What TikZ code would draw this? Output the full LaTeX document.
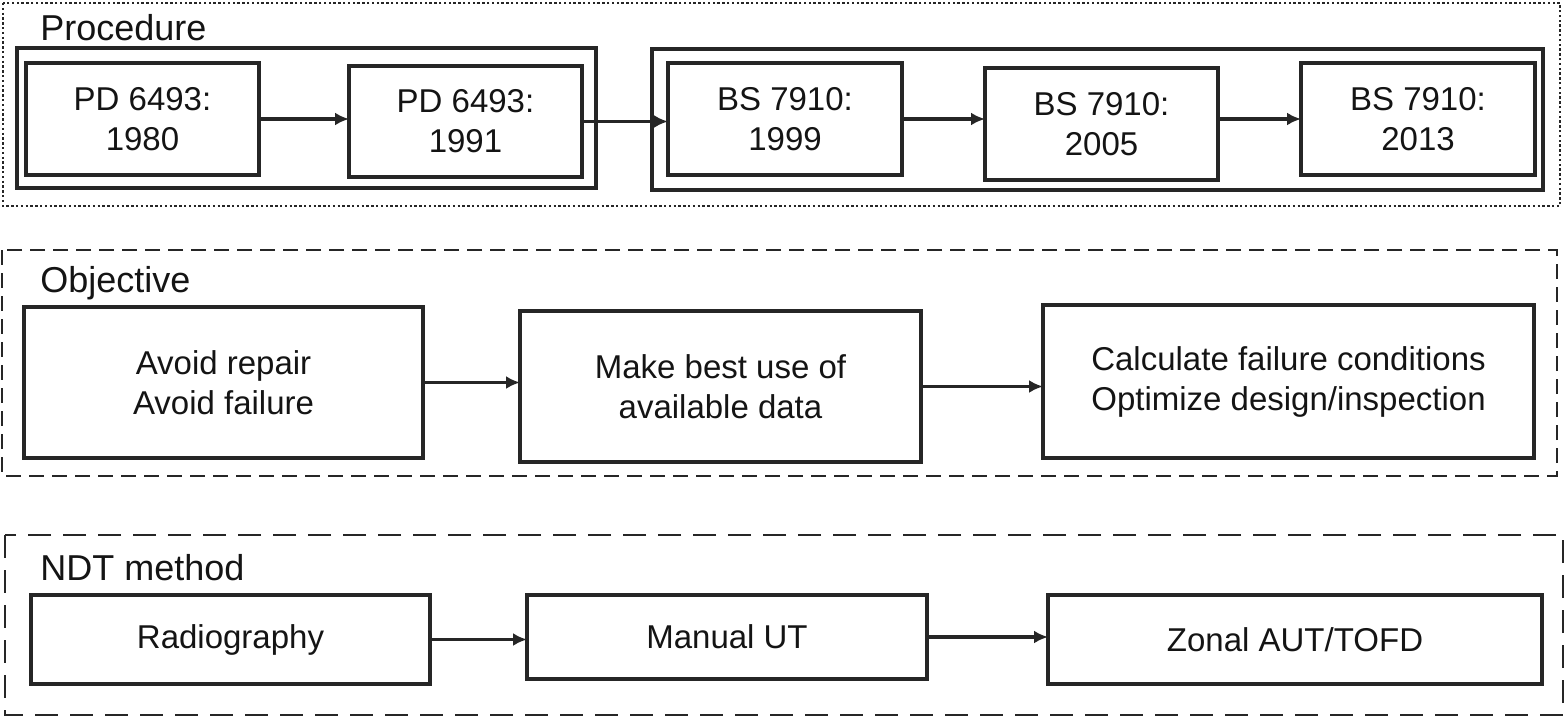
\documentclass[tikz,border=0pt]{standalone}
\usepackage{fontspec}
\setmainfont{Liberation Sans}
\usetikzlibrary{arrows.meta}
\definecolor{linec}{HTML}{262626}
\definecolor{textc}{HTML}{141414}
\begin{document}
\begin{tikzpicture}[x=0.5pt,y=-0.5pt,
  box/.style={draw=linec, line width=1.6pt, inner sep=0pt, outer sep=0pt, align=center,
    font=\fontsize{16.5}{20}\selectfont, text=textc},
  grp/.style={draw=linec, line width=1.7pt},
  head/.style={anchor=base west, inner sep=0pt, font=\fontsize{18}{22}\selectfont, text=textc},
  arr/.style={draw=linec, line width=1.6pt, -{Latex[length=7pt,width=6.5pt]}},
  dotframe/.style={draw=linec, line width=1.4pt, dash pattern=on 1.2pt off 1.2pt},
  dashA/.style={draw=linec, line width=1.4pt, dash pattern=on 7.5pt off 4pt},
  dashB/.style={draw=linec, line width=1.3pt, dash pattern=on 11.5pt off 6pt}]
\useasboundingbox (0,0) rectangle (1567,717);

% ---------- Procedure ----------
\draw[dotframe] (3,3) rectangle (1560,206);
\node[head] (hproc) at (40,41) {Procedure};
\draw[grp] (17,48) rectangle (596,188);
\draw[grp] (652,49) rectangle (1543,190);

\node[box, minimum width={(259-26)*0.5pt}, minimum height={(175-63)*0.5pt}] (p1) at ({(26+259)/2},{(63+175)/2}) {PD 6493:\\1980};
\node[box, minimum width={(582-349)*0.5pt}, minimum height={(177-66)*0.5pt}] (p2) at ({(349+582)/2},{(66+177)/2}) {PD 6493:\\1991};
\node[box, minimum width={(902-668)*0.5pt}, minimum height={(175-63)*0.5pt}] (b1) at ({(668+902)/2},{(63+175)/2}) {BS 7910:\\1999};
\node[box, minimum width={(1218-985)*0.5pt}, minimum height={(180-68)*0.5pt}] (b2) at ({(985+1218)/2},{(68+180)/2}) {BS 7910:\\2005};
\node[box, minimum width={(1535-1301)*0.5pt}, minimum height={(175-63)*0.5pt}] (b3) at ({(1301+1535)/2},{(63+175)/2}) {BS 7910:\\2013};

\draw[arr] (p1.east) -- (p1.east -| p2.west);
\draw[arr] (p2.east) -- (p2.east -| b1.west);
\draw[arr] (b1.east) -- (b1.east -| b2.west);
\draw[arr] (b3.west -| b2.east) -- (b3.west);

% ---------- Objective ----------
\draw[dashA] (2,250) rectangle (1557,476);
\node[head] (hobj) at (40,292) {Objective};
\node[box, minimum width={(423-24)*0.5pt}, minimum height={(458-307)*0.5pt}] (o1) at ({(24+423)/2},{(307+458)/2}) {Avoid repair\\Avoid failure};
\node[box, minimum width={(921-520)*0.5pt}, minimum height={(462-311)*0.5pt}] (o2) at ({(520+921)/2},{(311+462)/2}) {Make best use of\\available data};
\node[box, minimum width={(1534-1043)*0.5pt}, minimum height={(458-305)*0.5pt}] (o3) at ({(1043+1534)/2},{(305+458)/2}) {Calculate failure conditions\\Optimize design/inspection};
\draw[arr] (o1.east) -- (o1.east -| o2.west);
\draw[arr] (o2.east) -- (o2.east -| o3.west);

% ---------- NDT method ----------
\draw[dashB] (5,535) rectangle (1563,715);
\node[head] (hndt) at (40,580) {NDT method};
\node[box, minimum width={(430-31)*0.5pt}, minimum height={(684-595)*0.5pt}] (n1) at ({(31+430)/2},{(595+684)/2}) {Radiography};
\node[box, minimum width={(927-527)*0.5pt}, minimum height={(679-595)*0.5pt}] (n2) at ({(527+927)/2},{(595+679)/2}) {Manual UT};
\node[box, minimum width={(1542-1048)*0.5pt}, minimum height={(684-595)*0.5pt}] (n3) at ({(1048+1542)/2},{(595+684)/2}) {Zonal AUT/TOFD};
\draw[arr] (n1.east) -- (n1.east -| n2.west);
\draw[arr] (n2.east) -- (n2.east -| n3.west);
\end{tikzpicture}
\end{document}
